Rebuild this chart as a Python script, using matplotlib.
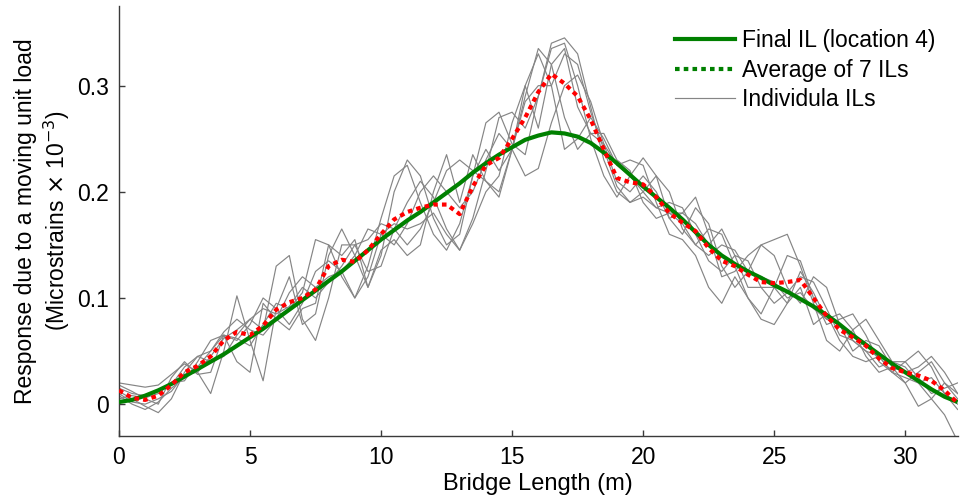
import matplotlib
matplotlib.use("Agg")
import matplotlib.pyplot as plt
from matplotlib.lines import Line2D
import numpy as np

plt.rcParams['font.family'] = ['Liberation Sans', 'DejaVu Sans']

# Bridge positions (m), every 0.5 m
x = np.arange(0, 32.01, 0.5)

final_il = [0.002, 0.004, 0.008, 0.013, 0.019, 0.026, 0.033, 0.040, 0.047, 0.055,
            0.063, 0.071, 0.080, 0.089, 0.098, 0.107, 0.116, 0.125, 0.135, 0.145,
            0.155, 0.164, 0.173, 0.181, 0.190, 0.199, 0.208, 0.218, 0.227, 0.235,
            0.242, 0.249, 0.253, 0.256, 0.255, 0.252, 0.246, 0.237, 0.227, 0.216,
            0.205, 0.195, 0.185, 0.174, 0.162, 0.150, 0.140, 0.132, 0.125, 0.119,
            0.112, 0.106, 0.099, 0.092, 0.084, 0.075, 0.065, 0.056, 0.047, 0.038,
            0.030, 0.022, 0.014, 0.007, 0.002]

average_il = [0.013, 0.006, 0.004, 0.008, 0.018, 0.030, 0.036, 0.045, 0.060, 0.068,
              0.065, 0.074, 0.089, 0.096, 0.100, 0.108, 0.130, 0.136, 0.134, 0.145,
              0.160, 0.174, 0.181, 0.185, 0.188, 0.188, 0.179, 0.205, 0.225, 0.232,
              0.250, 0.270, 0.294, 0.311, 0.302, 0.290, 0.268, 0.240, 0.213, 0.209,
              0.207, 0.195, 0.180, 0.171, 0.163, 0.147, 0.135, 0.130, 0.122, 0.115,
              0.114, 0.115, 0.117, 0.100, 0.083, 0.070, 0.063, 0.055, 0.043, 0.034,
              0.030, 0.027, 0.022, 0.013, 0.001]

il_a = [0.020, 0.018, 0.016, 0.018, 0.028, 0.038, 0.030, 0.010, 0.050, 0.102,
        0.060, 0.022, 0.090, 0.120, 0.075, 0.085, 0.140, 0.165, 0.140, 0.110,
        0.140, 0.200, 0.230, 0.215, 0.175, 0.150, 0.160, 0.215, 0.265, 0.275,
        0.245, 0.235, 0.290, 0.335, 0.340, 0.300, 0.250, 0.215, 0.195, 0.215,
        0.232, 0.215, 0.175, 0.160, 0.185, 0.170, 0.130, 0.110, 0.125, 0.150,
        0.140, 0.110, 0.095, 0.120, 0.110, 0.075, 0.050, 0.060, 0.055, 0.035,
        0.020, 0.030, 0.040, 0.020, 0.005]

il_b = [0.012, 0.005, -0.002, -0.008, 0.005, 0.030, 0.045, 0.040, 0.045, 0.065,
        0.080, 0.070, 0.130, 0.140, 0.080, 0.060, 0.100, 0.150, 0.150, 0.125,
        0.130, 0.165, 0.190, 0.210, 0.195, 0.165, 0.145, 0.175, 0.220, 0.270,
        0.275, 0.260, 0.290, 0.340, 0.345, 0.330, 0.280, 0.230, 0.200, 0.190,
        0.200, 0.215, 0.200, 0.165, 0.150, 0.165, 0.160, 0.130, 0.100, 0.085,
        0.110, 0.140, 0.135, 0.100, 0.075, 0.080, 0.085, 0.065, 0.040, 0.030,
        0.040, 0.050, 0.035, 0.010, -0.005]

il_c = [0.008, 0.000, -0.005, 0.002, 0.015, 0.025, 0.035, 0.050, 0.065, 0.062,
        0.055, 0.075, 0.095, 0.090, 0.105, 0.155, 0.150, 0.120, 0.100, 0.130,
        0.175, 0.215, 0.225, 0.190, 0.160, 0.145, 0.170, 0.215, 0.240, 0.220,
        0.240, 0.290, 0.335, 0.320, 0.270, 0.240, 0.255, 0.245, 0.210, 0.200,
        0.215, 0.200, 0.175, 0.180, 0.195, 0.160, 0.120, 0.125, 0.140, 0.150,
        0.155, 0.160, 0.130, 0.095, 0.060, 0.050, 0.070, 0.080, 0.060, 0.040,
        0.035, 0.020, 0.005, -0.010, -0.035]

il_d = [0.005, 0.008, 0.006, 0.010, 0.020, 0.022, 0.040, 0.060, 0.065, 0.060,
        0.075, 0.100, 0.090, 0.075, 0.095, 0.125, 0.135, 0.125, 0.140, 0.165,
        0.160, 0.150, 0.170, 0.200, 0.215, 0.200, 0.185, 0.200, 0.230, 0.255,
        0.240, 0.215, 0.222, 0.265, 0.300, 0.310, 0.285, 0.245, 0.225, 0.215,
        0.200, 0.185, 0.190, 0.185, 0.160, 0.135, 0.125, 0.140, 0.135, 0.110,
        0.095, 0.105, 0.120, 0.115, 0.090, 0.065, 0.060, 0.050, 0.035, 0.040,
        0.040, 0.025, 0.010, 0.015, 0.020]

il_e = [0.015, 0.010, 0.008, 0.012, 0.018, 0.035, 0.045, 0.050, 0.068, 0.080,
        0.070, 0.065, 0.080, 0.105, 0.120, 0.110, 0.120, 0.125, 0.100, 0.120,
        0.160, 0.170, 0.165, 0.170, 0.180, 0.160, 0.145, 0.170, 0.200, 0.215,
        0.265, 0.300, 0.330, 0.300, 0.240, 0.250, 0.270, 0.250, 0.225, 0.230,
        0.225, 0.190, 0.160, 0.155, 0.140, 0.110, 0.095, 0.120, 0.100, 0.080,
        0.075, 0.095, 0.125, 0.105, 0.080, 0.075, 0.060, 0.050, 0.045, 0.030,
        0.020, -0.002, 0.005, 0.020, 0.010]

il_f = [0.010, 0.002, 0.000, 0.005, 0.012, 0.028, 0.030, 0.045, 0.062, 0.070,
        0.080, 0.090, 0.085, 0.092, 0.110, 0.100, 0.115, 0.130, 0.150, 0.155,
        0.170, 0.165, 0.150, 0.165, 0.190, 0.220, 0.230, 0.220, 0.210, 0.195,
        0.240, 0.285, 0.300, 0.300, 0.330, 0.320, 0.275, 0.240, 0.205, 0.190,
        0.195, 0.185, 0.180, 0.170, 0.150, 0.140, 0.150, 0.145, 0.125, 0.120,
        0.115, 0.100, 0.105, 0.090, 0.080, 0.085, 0.070, 0.045, 0.030, 0.035,
        0.030, 0.035, 0.045, 0.030, 0.010]

il_g = [0.018, 0.012, 0.005, 0.000, 0.025, 0.040, 0.028, 0.030, 0.065, 0.040,
        0.030, 0.095, 0.080, 0.070, 0.090, 0.095, 0.150, 0.140, 0.155, 0.110,
        0.145, 0.155, 0.140, 0.150, 0.200, 0.235, 0.190, 0.235, 0.210, 0.200,
        0.240, 0.300, 0.260, 0.320, 0.335, 0.280, 0.255, 0.255, 0.230, 0.220,
        0.190, 0.175, 0.180, 0.180, 0.170, 0.150, 0.165, 0.140, 0.110, 0.110,
        0.110, 0.095, 0.110, 0.075, 0.085, 0.060, 0.045, 0.040, 0.045, 0.030,
        0.025, 0.020, 0.025, 0.010, 0.000]

individual_ils = [il_a, il_b, il_c, il_d, il_e, il_f, il_g]

xticks = [0, 5, 10, 15, 20, 25, 30]
yticks = [0, 0.1, 0.2, 0.3]
ytick_labels = ['0', '0.1', '0.2', '0.3']

fig = plt.figure(figsize=(9.64, 5.03), dpi=100)
ax = fig.add_axes([0.1234, 0.1332, 0.8700, 0.8548])

grey = '#858585'
for il in individual_ils:
    ax.plot(x, il, color=grey, lw=0.85, solid_joinstyle='round', zorder=2)
ax.plot(x, final_il, color='#008000', lw=3.0, solid_capstyle='butt',
        solid_joinstyle='round', zorder=3)
ax.plot(x, average_il, color='#ff0000', lw=3.0, dashes=(1.1, 1.0), zorder=4)

ax.set_xlim(0, 32)
ax.set_ylim(-0.03, 0.375)
ax.set_xticks(xticks)
ax.set_yticks(yticks)
ax.set_yticklabels(ytick_labels)

for side in ['top', 'right']:
    ax.spines[side].set_visible(False)
for side in ['left', 'bottom']:
    ax.spines[side].set_color('#3a3a3a')
    ax.spines[side].set_linewidth(1.0)
ax.tick_params(direction='in', length=4, width=1, color='#3a3a3a',
               labelsize=16.5, pad=7)

ax.set_xlabel('Bridge Length (m)', fontsize=17, labelpad=3)
ax.set_ylabel('Response due to a moving unit load\n(Microstrains $\\times$ 10$^{-3}$)',
              fontsize=16.5, labelpad=4, linespacing=1.2)

handles = [Line2D([], [], color='#008000', lw=3.0),
           Line2D([], [], color='#008000', lw=3.0, dashes=(1.1, 1.0)),
           Line2D([], [], color=grey, lw=0.85)]
labels = ['Final IL (location 4)', 'Average of 7 ILs', 'Individula ILs']
ax.legend(handles, labels, loc='upper right', frameon=False, fontsize=16.5,
          handlelength=2.6, handletextpad=0.3, labelspacing=0.3,
          bbox_to_anchor=(0.995, 0.99), borderaxespad=0.4)

fig.savefig('out.png', dpi=100)
